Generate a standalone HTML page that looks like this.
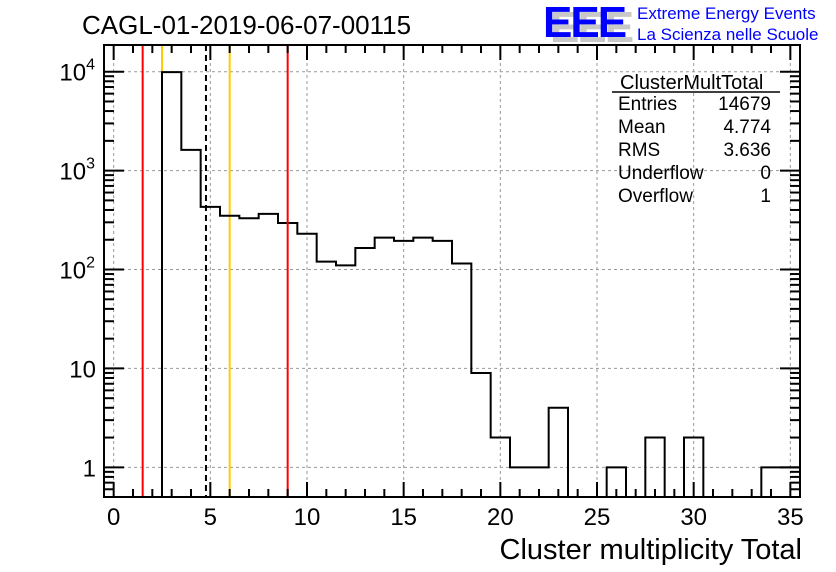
<!DOCTYPE html>
<html><head><meta charset="utf-8">
<style>
html,body{margin:0;padding:0;background:#fff;}
svg{display:block;font-family:"Liberation Sans",sans-serif;}
</style></head>
<body>
<svg id="chart" width="836" height="572" viewBox="0 0 836 572">
<rect width="836" height="572" fill="#fff"/>
<text x="82" y="34" font-size="26">CAGL-01-2019-06-07-00115</text>
<g>
<text x="550" y="42" font-size="44" font-weight="bold" fill="#c8c8c8" letter-spacing="-2">EEE</text>
<text x="543" y="37" font-size="44" font-weight="bold" fill="#0000ff" letter-spacing="-2">EEE</text>
<text x="637" y="19" font-size="17" fill="#0000ff">Extreme Energy Events</text>
<text x="637" y="40" font-size="17" fill="#0000ff">La Scienza nelle Scuole</text>
</g>
<g id="grid"></g>
<g id="marks"></g>
<g id="axes"></g>
<g font-size="19">
<text x="620" y="89" font-size="20">ClusterMultTotal</text>
<line x1="612" y1="92" x2="780" y2="92" stroke="#000" stroke-width="1.5"/>
<text x="618" y="110">Entries</text><text x="771" y="110" text-anchor="end">14679</text>
<text x="618" y="133">Mean</text><text x="771" y="133" text-anchor="end">4.774</text>
<text x="618" y="156">RMS</text><text x="771" y="156" text-anchor="end">3.636</text>
<text x="618" y="179">Underflow</text><text x="771" y="179" text-anchor="end">0</text>
<text x="618" y="202">Overflow</text><text x="771" y="202" text-anchor="end">1</text>
</g>
<text x="802" y="559" font-size="29" text-anchor="end">Cluster multiplicity Total</text>
</svg>
<script>
const binCenters = [0,1,2,3,4,5,6,7,8,9,10,11,12,13,14,15,16,17,18,19,20,21,22,23,24,25,26,27,28,29,30,31,32,33,34,35];
const counts = [0,0,0,9900,1620,430,350,330,365,295,230,120,110,165,210,195,210,195,115,9,2,1,1,4,0,0,1,0,2,0,2,0,0,0,1,1];
const xTickValues = [0,5,10,15,20,25,30,35];
const yDecades = [0,1,2,3,4];
const yTickLabels = ["1","10","10²","10³","10⁴"];
const redLines = [1.5, 9.0];
const orangeLines = [2.5, 6.0];
const meanValue = 4.774;

const L=104,R=800,T=45,B=497;
const xMin=-0.5,xMax=35.5;
const logMin=-0.30,logMax=4.27;
const NS="http://www.w3.org/2000/svg";
function X(v){return L+(v-xMin)/(xMax-xMin)*(R-L);}
function Y(v){const lv=v<=0?logMin:Math.log10(v);return B-(Math.max(lv,logMin)-logMin)/(logMax-logMin)*(B-T);}
function mk(tag,attrs,parent){const e=document.createElementNS(NS,tag);for(const k in attrs)e.setAttribute(k,attrs[k]);parent.appendChild(e);return e;}
const grid=document.getElementById('grid'),marks=document.getElementById('marks'),axes=document.getElementById('axes');

xTickValues.forEach(v=>{
 const g=mk('line',{x1:X(v),x2:X(v),y1:T,y2:B,stroke:'#999','stroke-dasharray':'3,3','stroke-width':1},grid);
 
 
});
yDecades.forEach(d=>{
 const g=mk('line',{x1:L,x2:R,y1:Y(Math.pow(10,d)),y2:Y(Math.pow(10,d)),stroke:'#999','stroke-dasharray':'3,3','stroke-width':1},grid);
 
 
});

orangeLines.forEach(v=>{
 const l=mk('line',{x1:X(v),x2:X(v),y1:T,y2:B,stroke:'#ffcc00','stroke-width':2},marks);
 
 
});

let d='M'+X(binCenters[0]-0.5)+','+Y(counts[0]);
binCenters.forEach((c,i)=>{
 const x0=X(c-0.5),x1=Math.min(X(c+0.5),R),y=Y(counts[i]);
 d+=' L'+x0+','+y+' L'+x1+','+y;
});
const h=mk('path',{d:d,fill:'none',stroke:'#000','stroke-width':2},marks);



redLines.forEach(v=>{
 const l=mk('line',{x1:X(v),x2:X(v),y1:T,y2:B,stroke:'#ff0000','stroke-width':2},marks);
 
 
});
const ml=mk('line',{x1:X(meanValue),x2:X(meanValue),y1:T,y2:B,stroke:'#000','stroke-width':2,'stroke-dasharray':'6,4'},marks);



const fr=mk('rect',{x:L,y:T,width:R-L,height:B-T,fill:'none',stroke:'#000','stroke-width':2},axes);



for(let v=0;v<=35;v++){
 const major=v%5===0, len=major?15:8;
 mk('line',{x1:X(v),x2:X(v),y1:B,y2:B-len,stroke:'#000','stroke-width':2},axes);
 mk('line',{x1:X(v),x2:X(v),y1:T,y2:T+len,stroke:'#000','stroke-width':2},axes);
}
xTickValues.forEach(v=>{
 const t=mk('text',{x:X(v),y:B+28,'font-size':24,'text-anchor':'middle'},axes);
 t.textContent=String(v);
 
 
});
for(let dd=-1;dd<=4;dd++){
 for(let m=1;m<=9;m++){
  const v=m*Math.pow(10,dd), lv=Math.log10(v);
  if(lv<logMin||lv>logMax)continue;
  const len=m===1?20:10;
  mk('line',{x1:L,x2:L+len,y1:Y(v),y2:Y(v),stroke:'#000','stroke-width':2},axes);
  mk('line',{x1:R,x2:R-len,y1:Y(v),y2:Y(v),stroke:'#000','stroke-width':2},axes);
 }
}
yDecades.forEach((dd,i)=>{
 const y=Y(Math.pow(10,dd));
 const t=mk('text',{x:L-8,y:y+9,'font-size':24,'text-anchor':'end'},axes);
 const lab=yTickLabels[i];
 if(lab.length>2){
  t.textContent='10';
  const s=mk('tspan',{'font-size':16,dy:-11},t);
  s.textContent=String(dd);
  t.setAttribute('x',L-9);
 } else t.textContent=lab;
 
 
});
</script>
</body></html>
